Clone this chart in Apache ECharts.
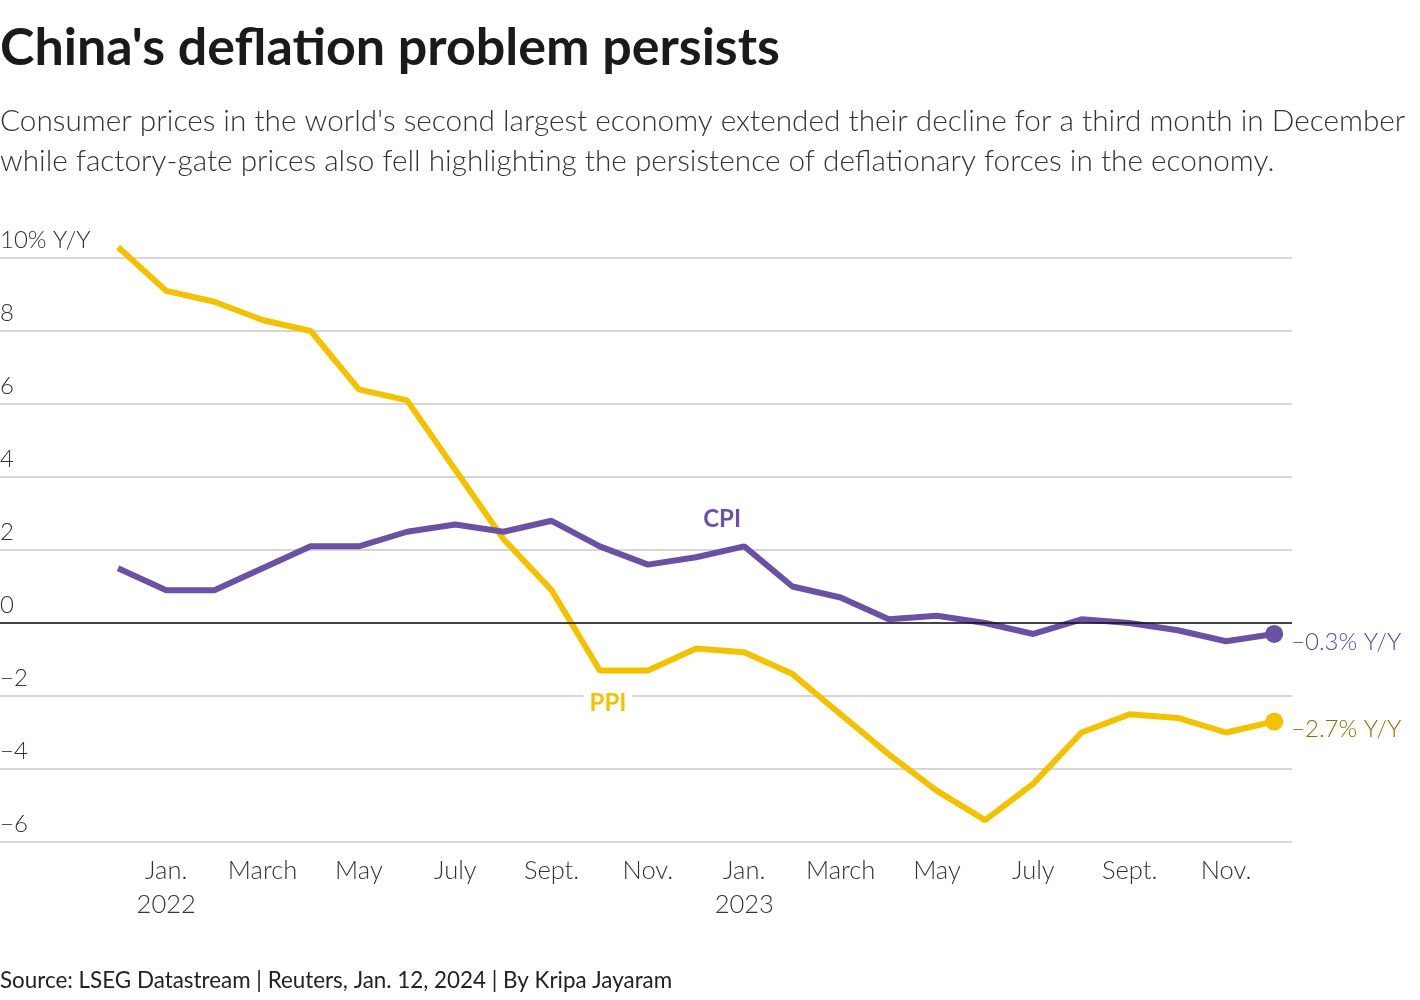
<!DOCTYPE html>
<html><head><meta charset="utf-8">
<script src="https://cdn.jsdelivr.net/npm/echarts@6/dist/echarts.min.js"></script>
<style>html,body{margin:0;padding:0;background:#fff;}#c{width:1420px;height:1000px;}</style>
</head><body><div id="c"></div>
<script>
const months = ['Dec 2021','Jan 2022','Feb 2022','Mar 2022','Apr 2022','May 2022','Jun 2022','Jul 2022','Aug 2022','Sep 2022','Oct 2022','Nov 2022','Dec 2022','Jan 2023','Feb 2023','Mar 2023','Apr 2023','May 2023','Jun 2023','Jul 2023','Aug 2023','Sep 2023','Oct 2023','Nov 2023','Dec 2023'];
const cpi = [1.5,0.9,0.9,1.5,2.1,2.1,2.5,2.7,2.5,2.8,2.1,1.6,1.8,2.1,1.0,0.7,0.1,0.2,0.0,-0.3,0.1,0.0,-0.2,-0.5,-0.3];
const ppi = [10.3,9.1,8.8,8.3,8.0,6.4,6.1,4.2,2.3,0.9,-1.3,-1.3,-0.7,-0.8,-1.4,-2.5,-3.6,-4.6,-5.4,-4.4,-3.0,-2.5,-2.6,-3.0,-2.7];
const xTickIdx = [1,3,5,7,9,11,13,15,17,19,21,23];
const xTickLabels = ['Jan.\n2022','March','May','July','Sept.','Nov.','Jan.\n2023','March','May','July','Sept.','Nov.'];
const yTicks = [-6,-4,-2,0,2,4,6,8,10];

const FONT = 'Lato';
const chart = echarts.init(document.getElementById('c'));
const last = cpi.length - 1;
const fmt = v => (v < 0 ? '\u2212' : '') + Math.abs(v).toFixed(1) + '% Y/Y';

chart.setOption({
  animation: false,
  title: [
    {text: "China's deflation problem persists", left: 0, top: 22, padding: 0,
     textStyle: {fontFamily: FONT, fontWeight: 'bold', fontSize: 52, color: '#1a1a1a'}},
    {text: "Consumer prices in the world's second largest economy extended their decline for a third month in December\nwhile factory-gate prices also fell highlighting the persistence of deflationary forces in the economy.",
     left: 0, top: 101, padding: 0,
     textStyle: {fontFamily: FONT, fontWeight: 300, fontSize: 29.75, lineHeight: 40, color: '#333'}},
    {text: 'Source: LSEG Datastream | Reuters, Jan. 12, 2024 | By Kripa Jayaram', left: 0, top: 970, padding: 0,
     textStyle: {fontFamily: FONT, fontWeight: 'normal', fontSize: 22.4, color: '#222'}}
  ],
  grid: {left: 0, top: 258, width: 1292, height: 584, containLabel: false, outerBoundsMode: 'none'},
  xAxis: {
    type: 'value', min: -2.45, max: 24.37,
    axisLine: {show: false}, axisTick: {show: false}, splitLine: {show: false},
    axisLabel: {
      customValues: xTickIdx,
      formatter: v => { const i = xTickIdx.indexOf(Math.round(v)); return i >= 0 ? xTickLabels[i] : ''; },
      fontFamily: FONT, fontWeight: 300, fontSize: 25.5, lineHeight: 34, color: '#333', margin: 12
    }
  },
  yAxis: {
    type: 'value', min: -6, max: 10, interval: 2,
    axisLine: {show: false}, axisTick: {show: false},
    splitLine: {lineStyle: {color: '#c8c8c8', width: 1.5}},
    axisLabel: {
      inside: true, verticalAlign: 'bottom', align: 'left', margin: 0, padding: [0,0,6,0],
      customValues: yTicks,
      formatter: v => v === 10 ? '10% Y/Y' : (v < 0 ? '\u2212' + Math.abs(v) : String(v)),
      fontFamily: FONT, fontWeight: 300, fontSize: 24, color: '#333'
    }
  },
  series: [
    {
      type: 'line', name: 'PPI', data: ppi.map((v,i)=>[i,v]), symbol: 'none', clip: false,
      lineStyle: {color: '#f2c200', width: 6}, z: 3,
      markLine: {silent: true, symbol: 'none', label: {show: false},
        lineStyle: {color: '#111', width: 1.5, type: 'solid'}, data: [{yAxis: 0}]},
      markPoint: {symbol: 'rect', symbolSize: 0, data: [{coord: [10.17, -2.19]}],
        label: {show: true, formatter: 'PPI', fontFamily: FONT, fontWeight: 'bold', fontSize: 24,
          color: '#f2c200', backgroundColor: '#fff', padding: [2,6]}}
    },
    {
      type: 'line', name: 'CPI', data: cpi.map((v,i)=>[i,v]), symbol: 'none', clip: false,
      lineStyle: {color: '#6a51a3', width: 6}, z: 4,
      markPoint: {symbol: 'rect', symbolSize: 0, data: [{coord: [12.54, 2.85]}],
        label: {show: true, formatter: 'CPI', fontFamily: FONT, fontWeight: 'bold', fontSize: 24,
          color: '#6a51a3'}}
    },
    {
      type: 'scatter', data: [[last, ppi[last]]], symbolSize: 18, itemStyle: {color: '#f2c200', opacity: 1}, z: 5, clip: false,
      label: {show: true, position: 'right', distance: 8, offset: [0, 8], formatter: p => fmt(p.value[1]),
        fontFamily: FONT, fontWeight: 300, fontSize: 24, color: '#8a6f12'}
    },
    {
      type: 'scatter', data: [[last, cpi[last]]], symbolSize: 18, itemStyle: {color: '#6a51a3', opacity: 1}, z: 5, clip: false,
      label: {show: true, position: 'right', distance: 8, offset: [0, 8], formatter: p => fmt(p.value[1]),
        fontFamily: FONT, fontWeight: 300, fontSize: 24, color: '#5f4798'}
    }
  ]
});
</script></body></html>
